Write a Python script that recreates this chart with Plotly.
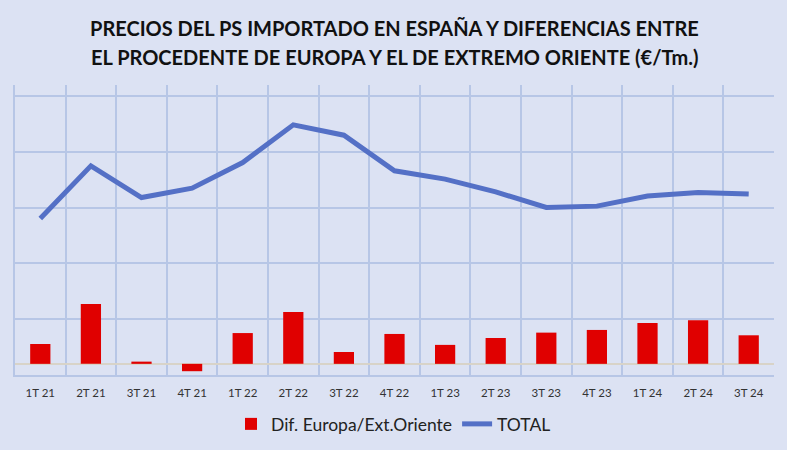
import plotly.graph_objects as go

categories = ["1T 21", "2T 21", "3T 21", "4T 21", "1T 22", "2T 22", "3T 22", "4T 22",
              "1T 23", "2T 23", "3T 23", "4T 23", "1T 24", "2T 24", "3T 24"]
dif_europa = [89, 268, 10, -33, 138, 232, 53, 134, 85, 116, 140, 152, 183, 195, 128]
total = [1403, 1875, 1591, 1675, 1905, 2243, 2150, 1831, 1756, 1642, 1502, 1514, 1604, 1636, 1622]
title_lines = ["PRECIOS DEL PS IMPORTADO EN ESPAÑA Y DIFERENCIAS ENTRE",
               "EL PROCEDENTE DE EUROPA Y EL DE EXTREMO ORIENTE (€/Tm.)"]

bg = "#DCE2F3"
grid = "#B7C6E6"

fig = go.Figure()
fig.add_trace(go.Bar(
    x=categories, y=dif_europa, name="Dif. Europa/Ext.Oriente",
    marker=dict(color="#E00000", line=dict(width=0)), width=0.4, yaxis="y2"))
fig.add_trace(go.Scatter(
    x=categories, y=total, name="TOTAL", mode="lines",
    line=dict(color="#5470C6", width=5), yaxis="y"))

top, bottom = 85, 75
ph = 450 - top - bottom
for txt, ypx in zip(title_lines, [28, 57]):
    fig.add_annotation(text=txt, xref="paper", yref="paper", x=0.5, xanchor="center",
                       y=1 + (top - ypx) / ph, yanchor="middle", showarrow=False,
                       font=dict(family="Lato", size=20, color="#111111", weight="bold"))

fig.update_layout(
    width=787, height=450,
    paper_bgcolor=bg, plot_bgcolor=bg,
    margin=dict(l=15, r=13, t=top, b=bottom, autoexpand=False),
    font=dict(family="Lato", color="#333333"),
    showlegend=True,
    legend=dict(orientation="h", x=0.5, xanchor="center", xref="container",
                y=1 - 424 / 450, yanchor="middle", yref="container",
                font=dict(size=17.5, color="#222222"), bgcolor="rgba(0,0,0,0)",
                traceorder="normal", itemwidth=30),
    xaxis=dict(type="category", tickson="boundaries", showgrid=True, gridcolor=grid,
               gridwidth=1.5, showline=True, linecolor=grid, linewidth=1.5, automargin=False,
               ticks="", tickfont=dict(size=11.5, color="#333333"), ticklabelstandoff=6),
    yaxis=dict(range=[0, 2600], showgrid=False, showticklabels=False, zeroline=False,
               showline=True, linecolor=grid, linewidth=1.5, automargin=False),
    yaxis2=dict(range=[-50, 1250], tick0=-50, dtick=250, overlaying="y", side="left",
                showgrid=True, gridcolor=grid, gridwidth=1.5, showticklabels=False,
                automargin=False,
                zeroline=True, zerolinecolor="#D8D3C8", zerolinewidth=1.5, ticks=""),
    bargap=0.6,
)

fig.write_html("out.html", config={"displayModeBar": False},
               post_script="document.body.style.margin='0';document.body.style.overflow='hidden';")
